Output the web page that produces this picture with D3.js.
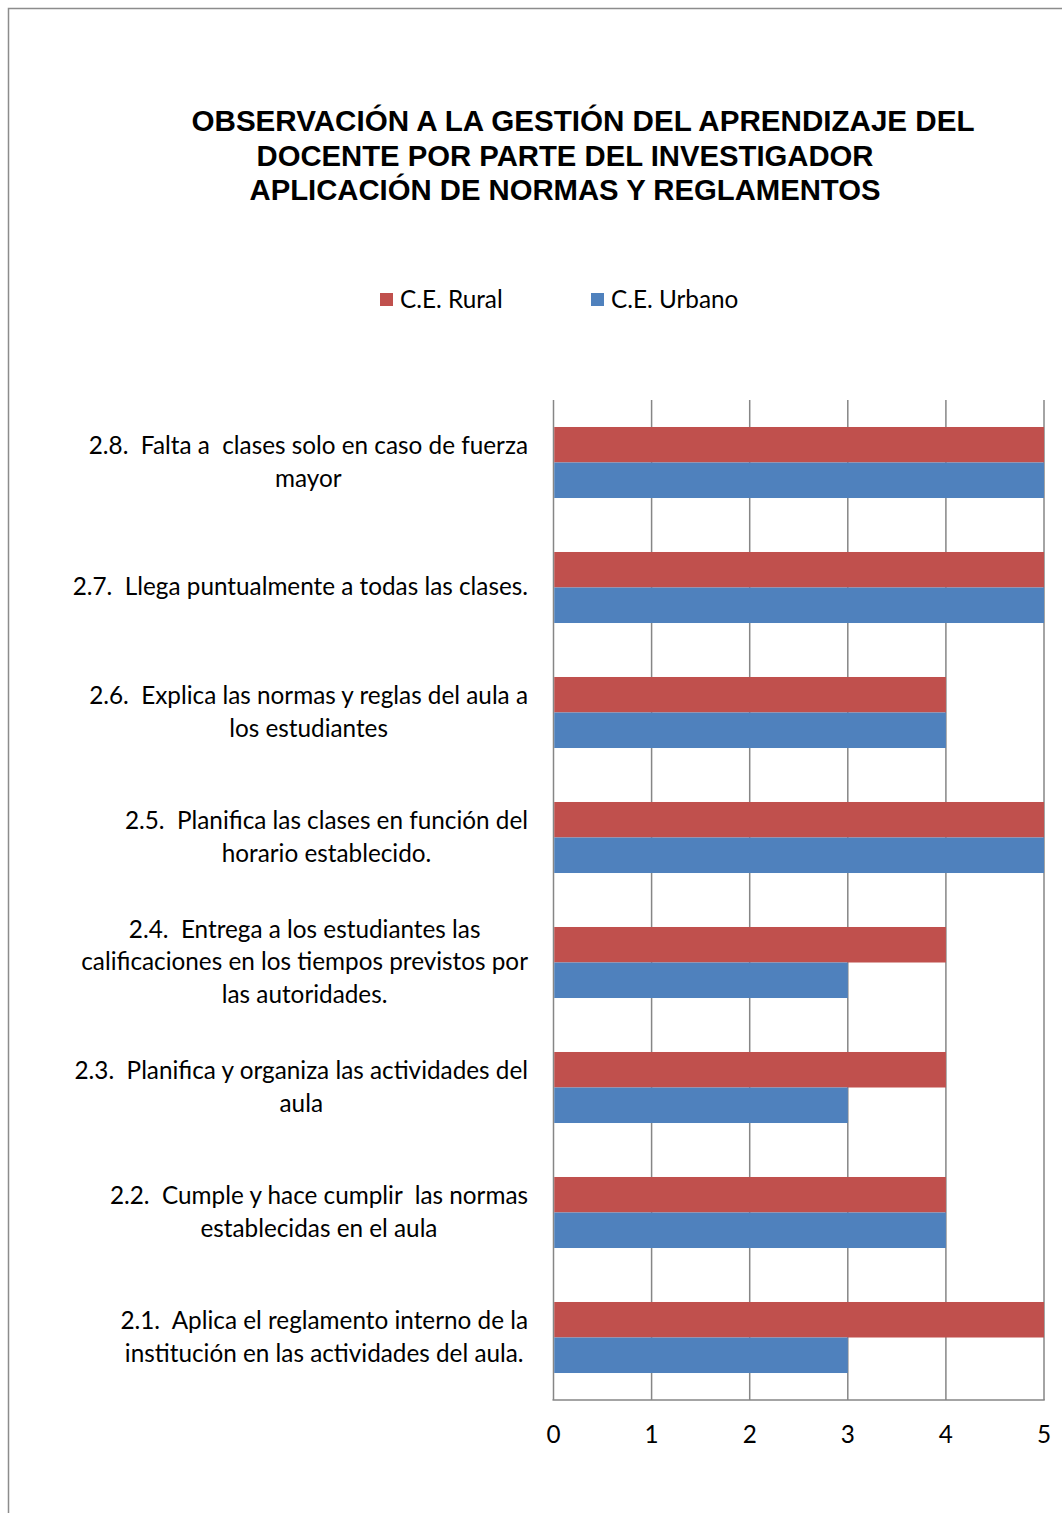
<!DOCTYPE html>
<html>
<head>
    <meta charset="utf-8">
    <style>
        body { margin: 0; background: #fff; }
        svg { display: block; }
        .title { font-family: "Liberation Sans", Arial, sans-serif; font-weight: bold; font-size: 29px; fill: #000; }
        .lbl { font-family: Lato, "Open Sans", sans-serif; font-size: 24.3px; fill: #000; white-space: pre; }
    </style>
</head>
<body>
<svg width="1062" height="1513"></svg>

<script src="https://d3js.org/d3.v7.min.js"></script>
<script>
    // categories, top to bottom as drawn
    let categories = ["2.8", "2.7", "2.6", "2.5", "2.4", "2.3", "2.2", "2.1"]
    let catLabels = [
        ["2.8.  Falta a  clases solo en caso de fuerza", "mayor"],
        ["2.7.  Llega puntualmente a todas las clases."],
        ["2.6.  Explica las normas y reglas del aula a", "los estudiantes"],
        ["2.5.  Planifica las clases en función del", "horario establecido."],
        ["2.4.  Entrega a los estudiantes las", "calificaciones en los tiempos previstos por", "las autoridades."],
        ["2.3.  Planifica y organiza las actividades del", "aula"],
        ["2.2.  Cumple y hace cumplir  las normas", "establecidas en el aula"],
        ["2.1.  Aplica el reglamento interno de la", "institución en las actividades del aula."]
    ]
    let series = ["C.E. Rural", "C.E. Urbano"]
    let rural = [5, 5, 4, 5, 4, 4, 4, 5]
    let urbano = [5, 5, 4, 5, 3, 3, 4, 3]
    let ticks = [0, 1, 2, 3, 4, 5]
    let titleLines = [
        "OBSERVACIÓN A LA GESTIÓN DEL APRENDIZAJE DEL",
        "DOCENTE POR PARTE DEL INVESTIGADOR",
        "APLICACIÓN DE NORMAS Y REGLAMENTOS"
    ]
    let colors = ["#C0504D", "#4F81BD"]

    let svg = d3.select("svg")

    // outer frame (runs off the right and bottom edge)
    svg.append("rect")
        .attr("x", 8.5).attr("y", 8.5)
        .attr("width", 1100).attr("height", 1600)
        .style("fill", "none").style("stroke", "#8c8c8c").style("stroke-width", 1.5)

    // title
    let titleX = [583, 565, 565]
    let titleW = [783, 617, 631]
    let titleY = [131, 166, 200]
    svg.selectAll(".title")
        .data(titleLines)
        .join("text")
        .attr("class", "title")
        .attr("x", (d, i) => titleX[i])
        .attr("y", (d, i) => titleY[i])
        .attr("text-anchor", "middle")
        .attr("textLength", (d, i) => titleW[i])
        .attr("lengthAdjust", "spacingAndGlyphs")
        .text(d => d)

    // legend
    let legendX = [380, 591]
    let lg = svg.selectAll(".legend")
        .data(series)
        .join("g")
        .attr("transform", (d, i) => "translate(" + legendX[i] + ",293)")
    lg.append("rect").attr("width", 13).attr("height", 13).style("fill", (d, i) => colors[i])
    lg.append("text").attr("class", "lbl").attr("x", 20).attr("y", 15).text(d => d)

    // scales
    let x = d3.scaleLinear().domain([0, 5]).range([553.5, 1044])
    let y = d3.scaleBand().domain(categories).range([400, 1400])
    let ySub = d3.scaleBand().domain(series).range([0, y.step()]).paddingOuter(0.76)

    // gridlines
    svg.selectAll(".grid")
        .data(ticks)
        .join("line")
        .attr("x1", d => x(d)).attr("x2", d => x(d))
        .attr("y1", 400).attr("y2", 1400)
        .style("stroke", "#868686").style("stroke-width", 1.5)

    // bars
    let rows = categories.map((c, i) => ({ cat: c, vals: [rural[i], urbano[i]] }))
    let groups = svg.selectAll(".cat")
        .data(rows)
        .join("g")
        .attr("transform", d => "translate(0," + y(d.cat) + ")")
    groups.selectAll("rect")
        .data(d => d.vals.map((v, j) => ({ s: series[j], v: v, j: j })))
        .join("rect")
        .attr("x", x(0) + 0.75)
        .attr("y", d => ySub(d.s))
        .attr("width", d => x(d.v) - x(0) - 0.75)
        .attr("height", ySub.bandwidth())
        .style("fill", d => colors[d.j])

    // bottom axis line
    svg.append("line")
        .attr("x1", x(0) - 1).attr("x2", x(5) + 0.75)
        .attr("y1", 1400).attr("y2", 1400)
        .style("stroke", "#868686").style("stroke-width", 1.5)

    // tick labels
    svg.selectAll(".tick")
        .data(ticks)
        .join("text")
        .attr("class", "lbl")
        .attr("x", d => x(d))
        .attr("y", 1443)
        .attr("text-anchor", "middle")
        .text(d => d)

    // category labels: block right-aligned at 528, lines centred inside block
    let lineH = 32.5
    let labelG = svg.selectAll(".catlabel")
        .data(rows)
        .join("g")
    labelG.each(function (d, i) {
        let g = d3.select(this)
        let lines = catLabels[i]
        let texts = g.selectAll("text")
            .data(lines)
            .join("text")
            .attr("class", "lbl")
            .attr("text-anchor", "middle")
            .text(t => t)
        let w = d3.max(texts.nodes(), n => n.getComputedTextLength())
        let cy = y(d.cat) + y.bandwidth() / 2
        let top = cy - (lines.length * lineH) / 2
        texts
            .attr("x", 528 - w / 2)
            .attr("y", (t, k) => top + k * lineH + 24)
    })
</script>
</body>
</html>
